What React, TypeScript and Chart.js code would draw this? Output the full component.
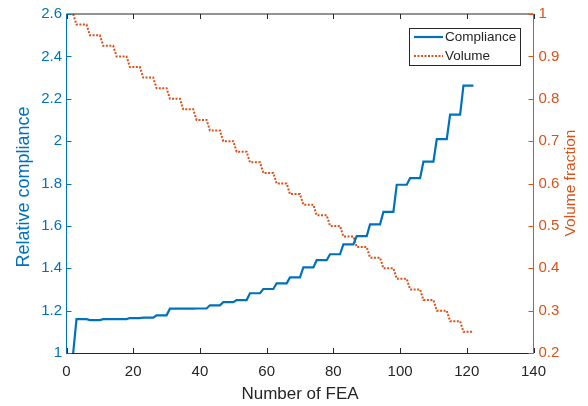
import React, { useEffect, useRef } from "react";
import { Chart, registerables } from "chart.js";

Chart.register(...registerables);

const fea = [2, 3, 6, 7, 10, 11, 14, 15, 18, 19, 22, 23, 26, 27, 30, 31, 34, 35, 38, 39, 42, 43, 46, 47, 50, 51, 54, 55, 58, 59, 62, 63, 66, 67, 70, 71, 74, 75, 78, 79, 82, 83, 86, 87, 90, 91, 94, 95, 98, 99, 102, 103, 106, 107, 110, 111, 114, 115, 118, 119, 122];

const compliance = [1, 1.16, 1.16, 1.155, 1.155, 1.16, 1.16, 1.16, 1.16, 1.165, 1.165, 1.167, 1.167, 1.178, 1.178, 1.209, 1.209, 1.209, 1.209, 1.21, 1.21, 1.225, 1.225, 1.24, 1.24, 1.25, 1.25, 1.282, 1.282, 1.302, 1.302, 1.329, 1.329, 1.357, 1.357, 1.404, 1.404, 1.438, 1.438, 1.466, 1.466, 1.513, 1.513, 1.552, 1.552, 1.607, 1.607, 1.666, 1.666, 1.794, 1.794, 1.825, 1.825, 1.903, 1.903, 2.009, 2.009, 2.125, 2.125, 2.262, 2.262];

const volume = [1, 0.975, 0.975, 0.95, 0.95, 0.925, 0.925, 0.9, 0.9, 0.875, 0.875, 0.85, 0.85, 0.825, 0.825, 0.8, 0.8, 0.775, 0.775, 0.75, 0.75, 0.725, 0.725, 0.7, 0.7, 0.675, 0.675, 0.65, 0.65, 0.625, 0.625, 0.6, 0.6, 0.575, 0.575, 0.55, 0.55, 0.525, 0.525, 0.5, 0.5, 0.475, 0.475, 0.45, 0.45, 0.425, 0.425, 0.4, 0.4, 0.375, 0.375, 0.35, 0.35, 0.325, 0.325, 0.3, 0.3, 0.275, 0.275, 0.25, 0.25];

const seriesLabels = ["Compliance", "Volume"];
const xTitle = "Number of FEA";
const yLeftTitle = "Relative compliance";
const yRightTitle = "Volume fraction";

const BLUE = "#0072BD";
const ORANGE = "#D95319";
const GRAY = "#262626";
const FONT = "'Liberation Sans', Arial, Helvetica, sans-serif";

const matlabPlugin = {
  id: "matlabDecor",
  afterDraw(chart: any) {
    const { ctx, chartArea } = chart;
    const { left, right, top, bottom } = chartArea;
    const xs = chart.scales.x;
    const yl = chart.scales.y;
    const yr = chart.scales.y1;
    const TL = 5;
    ctx.save();
    ctx.lineWidth = 1;
    // top border
    ctx.strokeStyle = GRAY;
    ctx.beginPath();
    ctx.moveTo(left, top);
    ctx.lineTo(right, top);
    ctx.stroke();
    // x ticks (bottom & top, inward)
    xs.ticks.forEach((t: any) => {
      const px = Math.round(xs.getPixelForValue(t.value)) + 0.5;
      ctx.beginPath();
      ctx.moveTo(px, bottom);
      ctx.lineTo(px, bottom - TL);
      ctx.moveTo(px, top);
      ctx.lineTo(px, top + TL);
      ctx.stroke();
    });
    ctx.strokeStyle = BLUE;
    yl.ticks.forEach((t: any) => {
      const py = Math.round(yl.getPixelForValue(t.value)) + 0.5;
      ctx.beginPath();
      ctx.moveTo(left, py);
      ctx.lineTo(left + TL, py);
      ctx.stroke();
    });
    ctx.strokeStyle = ORANGE;
    yr.ticks.forEach((t: any) => {
      const py = Math.round(yr.getPixelForValue(t.value)) + 0.5;
      ctx.beginPath();
      ctx.moveTo(right, py);
      ctx.lineTo(right - TL, py);
      ctx.stroke();
    });
    // y axis titles (both read bottom-to-top, MATLAB style)
    ctx.textAlign = "center";
    ctx.textBaseline = "middle";
    ctx.save();
    ctx.translate(24, 187);
    ctx.rotate(-Math.PI / 2);
    ctx.fillStyle = BLUE;
    ctx.font = `18px ${FONT}`;
    ctx.fillText(yLeftTitle, 0, 0);
    ctx.restore();
    ctx.save();
    ctx.translate(571, 183);
    ctx.rotate(-Math.PI / 2);
    ctx.fillStyle = ORANGE;
    ctx.font = `15.5px ${FONT}`;
    ctx.fillText(yRightTitle, 0, 0);
    ctx.restore();
    // legend box
    const bx = 409.5, by = 28.5, bw = 111, bh = 37;
    ctx.fillStyle = "#ffffff";
    ctx.fillRect(bx, by, bw, bh);
    ctx.strokeStyle = GRAY;
    ctx.strokeRect(bx, by, bw, bh);
    const rows = [37, 56];
    chart.data.datasets.forEach((ds: any, i: number) => {
      const y = rows[i];
      ctx.save();
      ctx.strokeStyle = ds.borderColor;
      ctx.lineWidth = ds.borderWidth;
      ctx.setLineDash(ds.borderDash || []);
      ctx.beginPath();
      ctx.moveTo(414, y);
      ctx.lineTo(443, y);
      ctx.stroke();
      ctx.restore();
      ctx.fillStyle = GRAY;
      ctx.font = `13.5px ${FONT}`;
      ctx.textBaseline = "middle";
      ctx.textAlign = "left";
      ctx.fillText(ds.label, 445, y);
    });
    ctx.restore();
  },
};

export default function App() {
  const ref = useRef<HTMLCanvasElement | null>(null);
  useEffect(() => {
    document.body.style.margin = "0";
    const canvas = ref.current;
    if (!canvas) return;
    const chart = new Chart(canvas, {
      type: "line",
      data: {
        datasets: [
          {
            label: seriesLabels[0],
            data: fea.map((x, i) => ({ x, y: compliance[i] })),
            borderColor: BLUE,
            backgroundColor: BLUE,
            borderWidth: 2.2,
            pointRadius: 0,
            tension: 0,
            yAxisID: "y",
          },
          {
            label: seriesLabels[1],
            data: fea.map((x, i) => ({ x, y: volume[i] })),
            borderColor: ORANGE,
            backgroundColor: ORANGE,
            borderWidth: 2,
            borderDash: [2, 1.5],
            pointRadius: 0,
            tension: 0,
            yAxisID: "y1",
          },
        ],
      },
      options: {
        responsive: false,
        animation: false,
        devicePixelRatio: 1,
        layout: { padding: { top: 11, left: 0, right: 0, bottom: 0 } },
        plugins: { legend: { display: false }, tooltip: { enabled: false } },
        scales: {
          x: {
            type: "linear",
            min: 0,
            max: 140,
            grid: { display: false, drawTicks: false },
            border: { display: true, color: GRAY, width: 1 },
            ticks: {
              stepSize: 20,
              padding: 10,
              color: GRAY,
              font: { family: FONT, size: 15 },
              maxRotation: 0,
            },
            title: {
              display: true,
              text: xTitle,
              color: GRAY,
              font: { family: FONT, size: 17 },
              padding: { top: 0, bottom: 1 },
            },
            afterFit: (s: any) => {
              s.height = 53;
            },
          },
          y: {
            type: "linear",
            position: "left",
            min: 1,
            max: 2.6,
            grid: { display: false, drawTicks: false },
            border: { display: true, color: BLUE, width: 1 },
            ticks: {
              stepSize: 0.2,
              padding: 4.5,
              color: BLUE,
              font: { family: FONT, size: 15 },
              callback: (v: any) => String(Number(Number(v).toFixed(1))),
            },
            title: { display: false },
            afterFit: (s: any) => {
              s.width = 66.5;
            },
          },
          y1: {
            type: "linear",
            position: "right",
            min: 0.2,
            max: 1,
            grid: { display: false, drawTicks: false },
            border: { display: true, color: ORANGE, width: 1 },
            ticks: {
              stepSize: 0.1,
              padding: 5,
              color: ORANGE,
              font: { family: FONT, size: 15 },
              callback: (v: any) => String(Number(Number(v).toFixed(1))),
            },
            title: { display: false },
            afterFit: (s: any) => {
              s.width = 54.5;
            },
          },
        },
      },
      plugins: [matlabPlugin],
    });
    return () => chart.destroy();
  }, []);
  return (
    <canvas
      ref={ref}
      width={588}
      height={406}
      style={{ display: "block", width: 588, height: 406 }}
    />
  );
}
